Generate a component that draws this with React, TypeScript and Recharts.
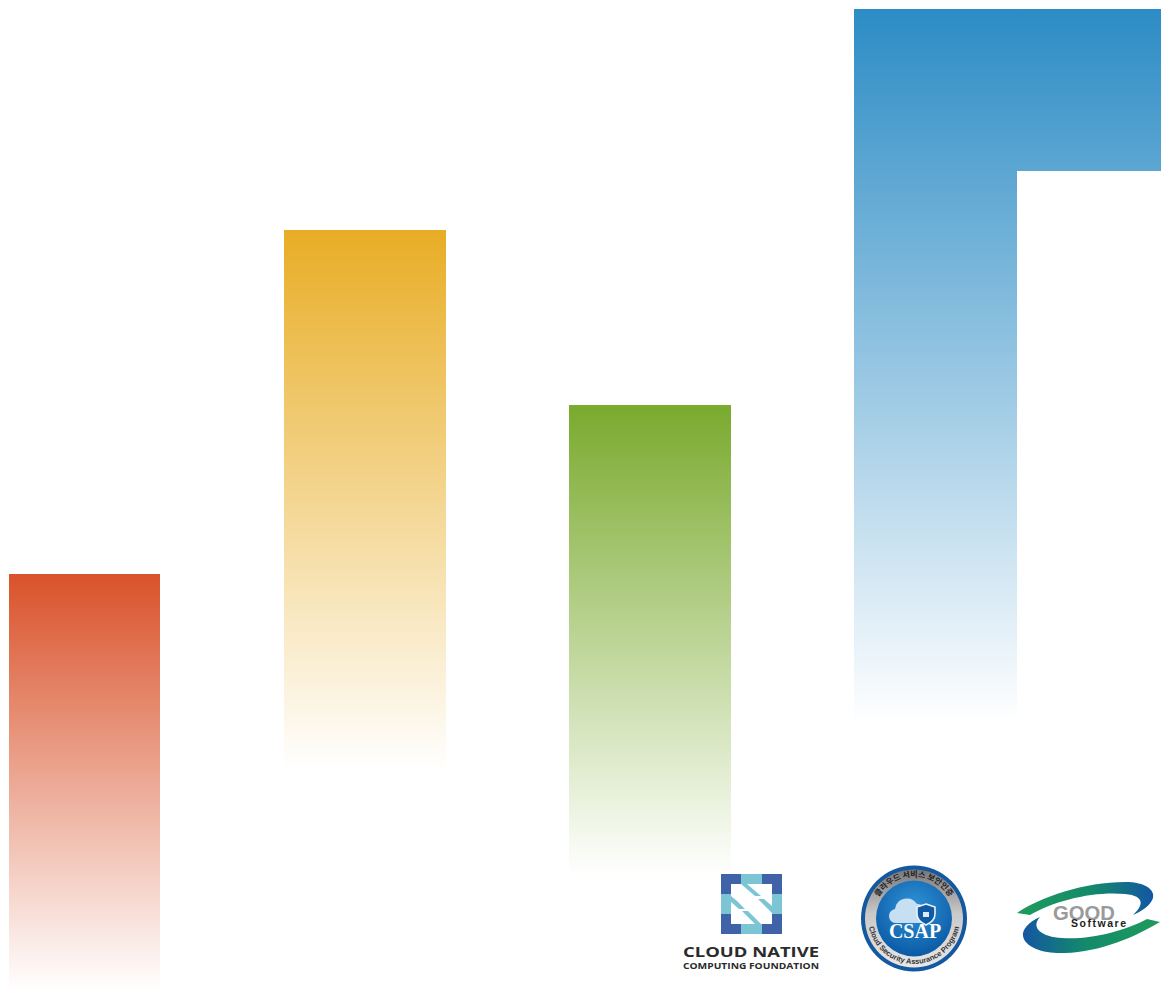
// App.tsx
import { AreaChart, Area, XAxis, YAxis } from "recharts";

const WIDTH = 1170;
const HEIGHT = 991;

// each step: x position, then [bottom, top] of the column
const redSteps = [
  { x: 9, range: [0, 417] },
  { x: 160, range: [0, 417] },
];
const orangeSteps = [
  { x: 284, range: [221, 761] },
  { x: 446, range: [221, 761] },
];
const greenSteps = [
  { x: 569, range: [116, 586] },
  { x: 731, range: [116, 586] },
];
const blueSteps = [
  { x: 854, range: [268, 982] },
  { x: 1017, range: [820, 982] },
  { x: 1161, range: [820, 982] },
];

const seriesList = [
  { id: "red", color: "#d9522a", data: redSteps },
  { id: "orange", color: "#e8ad25", data: orangeSteps },
  { id: "green", color: "#7aaa2e", data: greenSteps },
  { id: "blue", color: "#2c8cc5", data: blueSteps },
];

const CncfLogo = () => (
  <g>
    <rect x={721} y={874} width={61} height={60} fill="#7cc5d5" />
    <rect x={721} y={874} width={20} height={20} fill="#3f62a9" />
    <rect x={762} y={874} width={20} height={20} fill="#3f62a9" />
    <rect x={721} y={914} width={20} height={20} fill="#3f62a9" />
    <rect x={762} y={914} width={20} height={20} fill="#3f62a9" />
    <rect x={731} y={884} width={41} height={40} fill="#fff" />
    {/* stepped diagonal bands */}
    <path d="M741 884 L747 884 L761 896 L755 896 Z" fill="#7cc5d5" />
    <path d="M758 899 L764 899 L772 906 L772 913 Z" fill="#7cc5d5" />
    <path d="M731 896 L737 901 L745 909 L739 909 L731 902 Z" fill="#7cc5d5" />
    <path d="M742 911 L748 911 L761 924 L755 924 Z" fill="#7cc5d5" />
    <text
      x={683}
      y={956.5}
      textLength={136}
      lengthAdjust="spacingAndGlyphs"
      fontFamily="Open Sans"
      fontWeight={700}
      fontSize={15}
      fill="#2b2b2b"
    >
      CLOUD NATIVE
    </text>
    <text
      x={683}
      y={968.5}
      textLength={136}
      lengthAdjust="spacingAndGlyphs"
      fontFamily="Open Sans"
      fontWeight={700}
      fontSize={9}
      fill="#2b2b2b"
    >
      COMPUTING FOUNDATION
    </text>
  </g>
);

const CsapBadge = () => (
  <g>
    <defs>
      <linearGradient id="csapRing" x1="0" y1="0" x2="0" y2="1">
        <stop offset="0%" stopColor="#77777b" />
        <stop offset="45%" stopColor="#c9c9c9" />
        <stop offset="100%" stopColor="#e8e8e8" />
      </linearGradient>
      <radialGradient id="csapCore" cx="50%" cy="35%" r="65%">
        <stop offset="0%" stopColor="#2f93d8" />
        <stop offset="100%" stopColor="#0b5aa5" />
      </radialGradient>
      <path id="csapTop" d="M873 918 A41 41 0 0 1 955 918" />
      <path id="csapBottom" d="M868 918 A46 46 0 0 0 960 918" />
    </defs>
    <circle cx={914} cy={918.5} r={53} fill="#14589f" />
    <circle cx={914} cy={918.5} r={49} fill="url(#csapRing)" />
    <circle cx={914} cy={918.5} r={38} fill="url(#csapCore)" />
    <text fontFamily="Noto Sans CJK KR" fontWeight={700} fontSize={8} fill="#1d1d1d">
      <textPath href="#csapTop" startOffset="50%" textAnchor="middle">
        클라우드 서비스 보안인증
      </textPath>
    </text>
    <text fontFamily="Liberation Sans" fontWeight={700} fontSize={7.5} fill="#333">
      <textPath href="#csapBottom" startOffset="50%" textAnchor="middle">
        Cloud Security Assurance Program
      </textPath>
    </text>
    <path
      d="M897 923 a7 7 0 0 1 -2 -14 a12 12 0 0 1 22 -5 a9 9 0 0 1 9 6 L926 923 Z"
      fill="#c6dff2"
    />
    <path
      d="M926 904 L935 907 L935 914 Q935 921 926 925 Q917 921 917 914 L917 907 Z"
      fill="#0f5aa2"
      stroke="#e8f2fa"
      strokeWidth={1.6}
    />
    <rect x={923} y={912} width={6} height={5} fill="#dcebf7" />
    <text
      x={915}
      y={938}
      textAnchor="middle"
      fontFamily="Liberation Serif"
      fontWeight={700}
      fontSize={20}
      fill="#fff"
    >
      CSAP
    </text>
  </g>
);

const GoodLogo = () => (
  <g>
    <defs>
      <linearGradient id="goodTop" x1="0" y1="0" x2="1" y2="0">
        <stop offset="0%" stopColor="#1f9b5c" />
        <stop offset="55%" stopColor="#138a6a" />
        <stop offset="100%" stopColor="#1456a4" />
      </linearGradient>
      <linearGradient id="goodBottom" x1="0" y1="0" x2="1" y2="0">
        <stop offset="0%" stopColor="#1456a4" />
        <stop offset="45%" stopColor="#138a6a" />
        <stop offset="100%" stopColor="#1f9b5c" />
      </linearGradient>
    </defs>
    <path
      d="M1017 913 C1040 897 1085 882 1125 882 C1146 882 1155 890 1153 898 C1151 905 1142 911 1133 915 C1143 906 1146 896 1125 894 C1095 891 1055 900 1030 915 Z"
      fill="url(#goodTop)"
    />
    <path
      d="M1040 917 C1028 922 1022 930 1023 936 C1025 948 1045 954 1065 953 C1100 952 1135 937 1160 922 L1147 919 C1125 931 1090 940 1062 938 C1042 937 1030 928 1040 917 Z"
      fill="url(#goodBottom)"
    />
    <text
      x={1053}
      y={920}
      textLength={62}
      lengthAdjust="spacingAndGlyphs"
      fontFamily="Liberation Sans"
      fontWeight={700}
      fontSize={20.5}
      fill="#9a9a9a"
    >
      GOOD
    </text>
    <text
      x={1071}
      y={927}
      textLength={55}
      fontFamily="Liberation Sans"
      fontWeight={700}
      fontSize={10.5}
      fill="#222"
    >
      Software
    </text>
  </g>
);

export default function App() {
  return (
    <div style={{ position: "absolute", left: 0, top: 0, width: WIDTH, height: HEIGHT, background: "#fff" }}>
      <AreaChart
        width={WIDTH}
        height={HEIGHT}
        margin={{ top: 0, right: 0, bottom: 0, left: 0 }}
      >
        <defs>
          {seriesList.map((s) => (
            <linearGradient key={s.id} id={`fade-${s.id}`} x1="0" y1="0" x2="0" y2="1">
              <stop offset="0%" stopColor={s.color} stopOpacity={1} />
              <stop offset="100%" stopColor={s.color} stopOpacity={0} />
            </linearGradient>
          ))}
        </defs>
        <XAxis type="number" dataKey="x" domain={[0, WIDTH]} hide />
        <YAxis type="number" domain={[0, HEIGHT]} hide width={0} />
        {seriesList.map((s) => (
          <Area
            key={s.id}
            data={s.data}
            dataKey="range"
            type="stepAfter"
            stroke="none"
            fill={`url(#fade-${s.id})`}
            fillOpacity={1}
            dot={false}
            activeDot={false}
            isAnimationActive={false}
          />
        ))}
      </AreaChart>
      <svg
        width={WIDTH}
        height={HEIGHT}
        style={{ position: "absolute", left: 0, top: 0 }}
      >
        <CncfLogo />
        <CsapBadge />
        <GoodLogo />
      </svg>
    </div>
  );
}
